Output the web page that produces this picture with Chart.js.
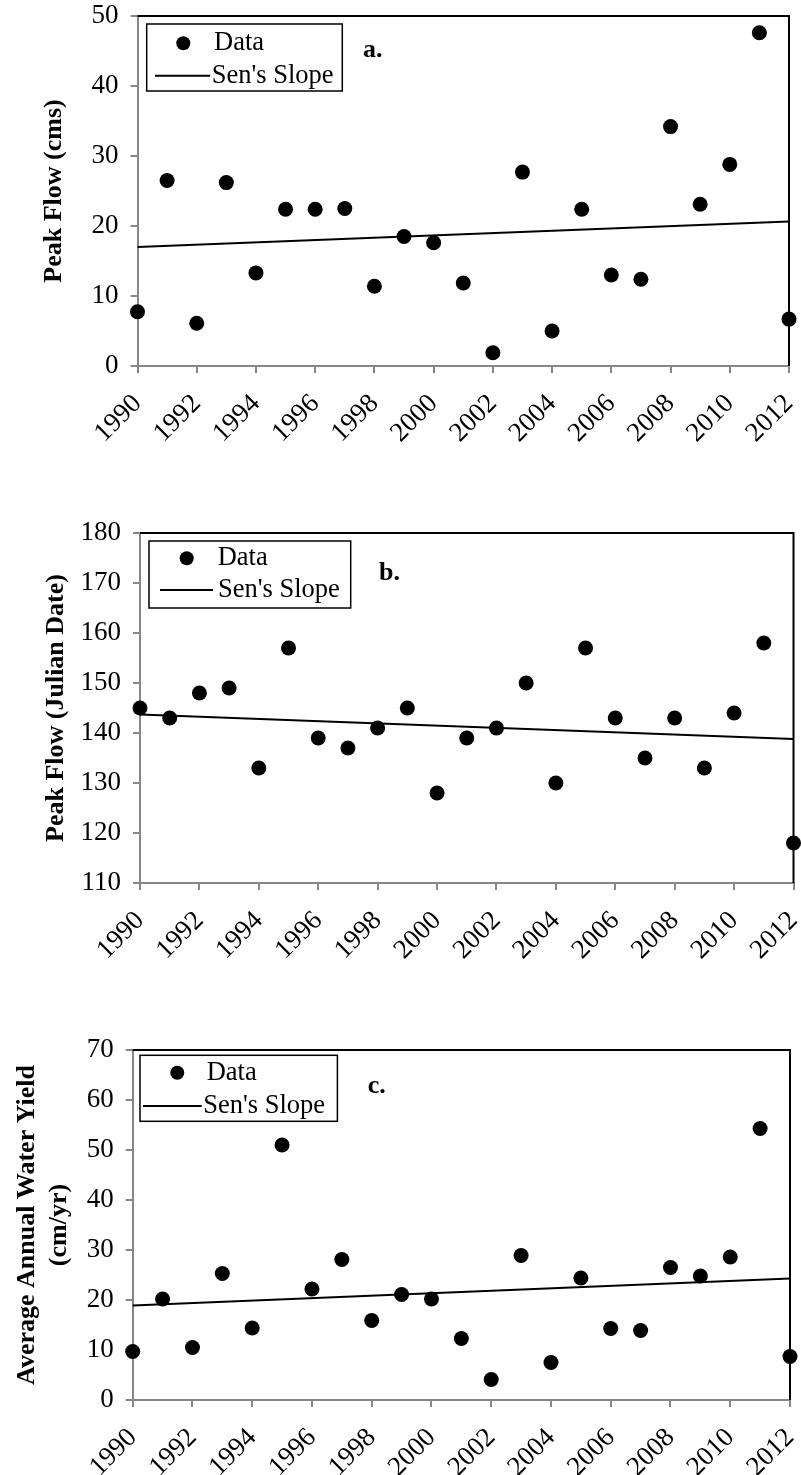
<!DOCTYPE html>
<html><head><meta charset="utf-8">
<script src="https://cdn.jsdelivr.net/npm/chart.js@4.4.1/dist/chart.umd.min.js"></script>
<style>
html,body{margin:0;padding:0;background:#fff;}
#wrap{position:relative;width:801px;height:1475px;overflow:hidden;background:#fff;}
canvas{position:absolute;left:0;}
</style></head><body>
<div id="wrap">
<canvas id="cA" width="801" height="480" style="top:0px"></canvas>
<canvas id="cB" width="801" height="510" style="top:480px"></canvas>
<canvas id="cC" width="801" height="485" style="top:990px"></canvas>
</div>
<script>
// ---------- data ----------
const years = [1990,1991,1992,1993,1994,1995,1996,1997,1998,1999,2000,2001,2002,2003,2004,2005,2006,2007,2008,2009,2010,2011,2012];
const peakFlowCms = [7.75,26.5,6.1,26.2,13.3,22.4,22.4,22.5,11.4,18.5,17.6,11.85,1.9,27.7,5.0,22.4,13.0,12.4,34.2,23.1,28.8,47.6,6.7];
const peakFlowJulian = [145,143,148,149,133,157,139,137,141,145,128,139,141,150,130,157,143,135,143,133,144,158,118];
const waterYield = [9.7,20.2,10.5,25.3,14.4,51.0,22.2,28.1,15.9,21.1,20.2,12.3,4.1,28.9,7.5,24.4,14.3,13.9,26.5,24.8,28.6,54.3,8.7];
const senYears = [1990, 2012];
const senPeakFlowCms = [17.0, 20.65];
const senPeakFlowJulian = [143.7, 138.8];
const senWaterYield = [18.9, 24.3];
const xTickValues = [1990,1992,1994,1996,1998,2000,2002,2004,2006,2008,2010,2012];
const legendLabels = ['Data', "Sen's Slope"];
const panelLabels = ['a.', 'b.', 'c.'];
const yTitleA = 'Peak Flow (cms)';
const yTitleB = 'Peak Flow (Julian Date)';
const yTitleC = ['Average Annual Water Yield', '(cm/yr)'];

// ---------- styling ----------
const SERIF = "'Liberation Serif','Times New Roman',Times,serif";
const AXIS_GRAY = '#878787';

const framePlugin = {
  id: 'frameLegend',
  beforeDatasetsDraw(chart) {
    const {ctx, chartArea: a} = chart;
    ctx.save();
    ctx.strokeStyle = '#000';
    ctx.lineWidth = 2;
    ctx.beginPath();
    ctx.moveTo(a.left, a.top);
    ctx.lineTo(a.right, a.top);
    ctx.lineTo(a.right, a.bottom);
    ctx.stroke();
    ctx.restore();
  },
  afterDatasetsDraw(chart, args, o) {
    const {ctx, chartArea: a} = chart;
    const L = a.left, T = a.top;
    ctx.save();
    ctx.fillStyle = '#fff';
    ctx.fillRect(L + o.box[0], T + o.box[1], o.box[2], o.box[3]);
    ctx.strokeStyle = '#000';
    ctx.lineWidth = 1.5;
    ctx.strokeRect(L + o.box[0], T + o.box[1], o.box[2], o.box[3]);
    ctx.fillStyle = '#000';
    ctx.beginPath();
    ctx.arc(L + o.marker[0], T + o.marker[1], 7, 0, Math.PI * 2);
    ctx.fill();
    ctx.lineWidth = 2;
    ctx.beginPath();
    ctx.moveTo(L + o.line[0], T + o.line[2]);
    ctx.lineTo(L + o.line[1], T + o.line[2]);
    ctx.stroke();
    ctx.font = '26.5px ' + SERIF;
    ctx.textBaseline = 'middle';
    ctx.textAlign = 'left';
    ctx.fillText(legendLabels[0], L + o.dataText[0], T + o.dataText[1]);
    ctx.fillText(legendLabels[1], L + o.senText[0], T + o.senText[1]);
    ctx.font = 'bold 26px ' + SERIF;
    ctx.fillText(o.panel, L + o.panelPos[0], T + o.panelPos[1]);
    ctx.restore();
  }
};

function yScale(min, max, step, title, titlePad, plotLeft) {
  return {
    type: 'linear', min, max,
    ticks: {stepSize: step, color: '#000', font: {family: SERIF, size: 27}, padding: 12, callback: v => String(v)},
    grid: {drawOnChartArea: false, drawTicks: true, tickLength: 7, color: AXIS_GRAY, lineWidth: 2},
    border: {color: AXIS_GRAY, width: 2},
    title: {display: true, text: title, color: '#000',
      font: {family: SERIF, size: 26, weight: 'bold', lineHeight: 1.2},
      padding: {top: titlePad, bottom: 0}},
    afterFit(s) { s.width = plotLeft; s.paddingTop = 0; s.paddingBottom = 0; }
  };
}
function xScale(height) {
  return {
    type: 'linear', min: years[0], max: years[years.length - 1],
    afterBuildTicks(s) { s.ticks = xTickValues.map(v => ({value: v})); },
    ticks: {autoSkip: false, minRotation: 45, maxRotation: 45, color: '#000',
      font: {family: SERIF, size: 27}, padding: 15, callback: v => String(v)},
    grid: {drawOnChartArea: false, drawTicks: true, tickLength: 7, color: AXIS_GRAY, lineWidth: 2},
    border: {color: AXIS_GRAY, width: 2},
    afterFit(s) { s.height = height; s.paddingLeft = 0; s.paddingRight = 0; }
  };
}
function makeChart(id, values, senVals, yCfg, xHeight, pad, legendOpts) {
  return new Chart(document.getElementById(id), {
    type: 'scatter',
    data: {
      datasets: [
        {label: legendLabels[0], data: years.map((y, i) => ({x: y, y: values[i]})),
         pointRadius: 7.5, pointHoverRadius: 7.5, backgroundColor: '#000', borderWidth: 0, clip: false},
        {label: legendLabels[1], data: senYears.map((y, i) => ({x: y, y: senVals[i]})),
         showLine: true, pointRadius: 0, borderColor: '#000', borderWidth: 2, clip: false}
      ]
    },
    options: {
      responsive: false, animation: false, devicePixelRatio: 1,
      layout: {padding: pad},
      scales: {x: xScale(xHeight), y: yCfg},
      plugins: {legend: {display: false}, tooltip: {enabled: false}, frameLegend: legendOpts}
    },
    plugins: [framePlugin]
  });
}

makeChart('cA', peakFlowCms, senPeakFlowCms, yScale(0, 50, 10, yTitleA, 39, 137.5), 114,
  {left: 0, right: 12, top: 16, bottom: 0},
  {box: [9.2, 8, 195.6, 67], marker: [45.8, 27.3], dataText: [76.5, 27.3], line: [17.5, 72.7, 59.7], senText: [74.2, 59.7], panel: panelLabels[0], panelPos: [225.5, 34]});

makeChart('cB', peakFlowJulian, senPeakFlowJulian, yScale(110, 180, 10, yTitleB, 41, 140), 107,
  {left: 0, right: 5, top: 53, bottom: 0},
  {box: [9, 8, 201.7, 67], marker: [46.7, 25.3], dataText: [77.7, 25.3], line: [20, 73, 57], senText: [78, 57], panel: panelLabels[1], panelPos: [239, 40]});

makeChart('cC', waterYield, senWaterYield, yScale(0, 70, 10, yTitleC, 12, 132.7), 75,
  {left: 0, right: 11, top: 60, bottom: 0},
  {box: [7.3, 5.3, 197.4, 66], marker: [44.6, 22.7], dataText: [74, 22.7], line: [10.3, 69, 56], senText: [70.6, 56], panel: panelLabels[2], panelPos: [235, 36]});
</script>
</body></html>
